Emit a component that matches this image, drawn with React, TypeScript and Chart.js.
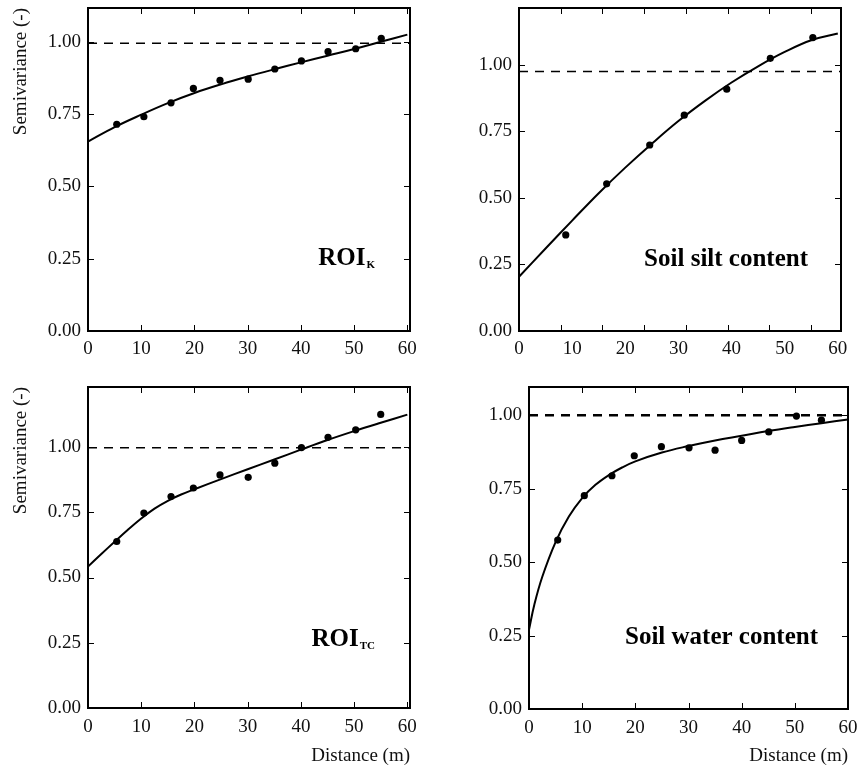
import React, { useEffect, useRef } from "react";
import { Chart, registerables } from "chart.js";

Chart.register(...registerables);

// ---------- shared axis tick values ----------
const xTickValues = [0, 10, 20, 30, 40, 50, 60];
const yTickValues = [0, 0.25, 0.5, 0.75, 1.0];

// ---------- ROI_K ----------
const roiKLagX = [5.4, 10.5, 15.6, 19.8, 24.8, 30.1, 35.1, 40.1, 45.1, 50.3, 55.1];
const roiKGamma = [0.715, 0.741, 0.789, 0.839, 0.867, 0.871, 0.906, 0.934, 0.966, 0.976, 1.012];
const roiKFitX = [0, 5, 10, 15, 20, 25, 30, 35, 40, 45, 50, 55, 60];
const roiKFitY = [0.655, 0.705, 0.748, 0.788, 0.823, 0.853, 0.88, 0.905, 0.929, 0.952, 0.975, 1.0, 1.025];
const roiKSill = 0.995;

// ---------- Soil silt content ----------
const siltLagX = [8.8, 16.5, 24.6, 31.1, 39.1, 47.3, 55.3];
const siltGamma = [0.361, 0.553, 0.699, 0.811, 0.909, 1.025, 1.103];
const siltFitX = [0, 5, 10, 15, 20, 25, 30, 35, 40, 45, 50, 55, 60];
const siltFitY = [0.204, 0.31, 0.415, 0.518, 0.614, 0.704, 0.789, 0.865, 0.934, 0.995, 1.049, 1.093, 1.118];
const siltSill = 0.975;
const siltTickMarks = [7.85, 15.7, 23.55, 31.4, 39.25, 47.1, 54.95];

// ---------- ROI_TC ----------
const roiTCLagX = [5.4, 10.5, 15.6, 19.8, 24.8, 30.1, 35.1, 40.1, 45.1, 50.3, 55.0];
const roiTCGamma = [0.638, 0.747, 0.81, 0.843, 0.893, 0.884, 0.938, 0.998, 1.037, 1.066, 1.125];
const roiTCFitX = [0, 2.5, 5, 7.5, 10, 12.5, 15, 17.5, 20, 25, 30, 35, 40, 45, 50, 55, 60];
const roiTCFitY = [0.542, 0.59, 0.637, 0.683, 0.726, 0.764, 0.794, 0.818, 0.838, 0.877, 0.915, 0.952, 0.99, 1.027, 1.061, 1.093, 1.124];
const roiTCSill = 0.997;

// ---------- Soil water content ----------
const waterLagX = [5.4, 10.4, 15.6, 19.8, 24.9, 30.1, 35.0, 40.0, 45.1, 50.3, 55.0];
const waterGamma = [0.575, 0.726, 0.794, 0.862, 0.893, 0.889, 0.881, 0.914, 0.943, 0.997, 0.983];
const waterFitX = [0, 1, 2.5, 5, 7.5, 10, 12.5, 15, 17.5, 20, 25, 30, 35, 40, 45, 50, 55, 60];
const waterFitY = [0.27, 0.355, 0.45, 0.568, 0.655, 0.718, 0.763, 0.796, 0.822, 0.843, 0.873, 0.895, 0.914, 0.93, 0.946, 0.96, 0.973, 0.985];
const waterSill = 1.0;

const FONT = '"Liberation Serif", "Times New Roman", serif';

const zip = (xs: number[], ys: number[]) => xs.map((x, i) => ({ x, y: ys[i] }));

const framePlugin = {
  id: "frameTicks",
  afterDraw(chart: any, _args: any, opts: any) {
    const { ctx, chartArea: a, scales } = chart;
    const xs = scales.x;
    const ys = scales.y;
    ctx.save();
    ctx.strokeStyle = "#000";
    ctx.lineWidth = 1;
    const tl = 6;
    const line = (x1: number, y1: number, x2: number, y2: number) => {
      ctx.beginPath();
      ctx.moveTo(x1, y1);
      ctx.lineTo(x2, y2);
      ctx.stroke();
    };
    const xMarks: number[] = opts.xMarks || xTickValues;
    xMarks.forEach((v) => {
      const p = Math.round(xs.getPixelForValue(v)) + 0.5;
      if (p <= a.left + 2 || p >= a.right - 2) return;
      line(p, a.bottom, p, a.bottom - tl);
      line(p, a.top, p, a.top + tl);
    });
    yTickValues.forEach((v) => {
      const p = Math.round(ys.getPixelForValue(v)) + 0.5;
      if (p <= a.top + 2 || p >= a.bottom - 2) return;
      line(a.left, p, a.left + tl, p);
      line(a.right, p, a.right - tl, p);
    });
    ctx.lineWidth = 2;
    ctx.strokeRect(a.left, a.top, a.right - a.left, a.bottom - a.top);

    // panel label
    ctx.fillStyle = "#000";
    ctx.textBaseline = "alphabetic";
    ctx.textAlign = "left";
    const mainFont = `bold ${opts.labelSize || 25}px ${FONT}`;
    const subFont = `bold 11px ${FONT}`;
    ctx.font = mainFont;
    const w1 = ctx.measureText(opts.label).width;
    let w2 = 0;
    if (opts.sub) {
      ctx.font = subFont;
      w2 = ctx.measureText(opts.sub).width + 1;
    }
    const endX = a.right - opts.labelRight;
    const baseY = a.bottom - opts.labelBottom;
    const startX = endX - w1 - w2;
    ctx.font = mainFont;
    ctx.fillText(opts.label, startX, baseY);
    if (opts.sub) {
      ctx.font = subFont;
      ctx.fillText(opts.sub, startX + w1 + 1, baseY + 3);
    }
    ctx.restore();
  },
};

type PanelProps = {
  left: number;
  top: number;
  width: number;
  height: number;
  yAxisWidth: number;
  xAxisHeight: number;
  padTop: number;
  padRight: number;
  xMax: number;
  yMax: number;
  lagX: number[];
  gamma: number[];
  fitX: number[];
  fitY: number[];
  sill: number;
  sillWidth: number;
  showYTitle: boolean;
  showXTitle: boolean;
  label: string;
  sub?: string;
  labelRight: number;
  labelBottom: number;
  xMarks?: number[];
  xLabelPad: number;
};

function Panel(p: PanelProps) {
  const ref = useRef<HTMLCanvasElement | null>(null);
  useEffect(() => {
    if (!ref.current) return;
    const chart = new Chart(ref.current, {
      type: "scatter",
      data: {
        datasets: [
          {
            data: [
              { x: 0, y: p.sill },
              { x: p.xMax, y: p.sill },
            ],
            showLine: true,
            borderColor: "#000",
            borderWidth: p.sillWidth,
            borderDash: [9, 7],
            pointRadius: 0,
          },
          {
            data: zip(p.fitX, p.fitY),
            showLine: true,
            borderColor: "#000",
            borderWidth: 2,
            pointRadius: 0,
            tension: 0.4,
          },
          {
            data: zip(p.lagX, p.gamma),
            showLine: false,
            pointRadius: 3.6,
            pointBackgroundColor: "#000",
            pointBorderColor: "#000",
            pointBorderWidth: 0,
          },
        ],
      },
      options: {
        animation: false,
        responsive: false,
        events: [],
        layout: { padding: { top: p.padTop, right: p.padRight, left: 0, bottom: 0 } },
        plugins: {
          legend: { display: false },
          tooltip: { enabled: false },
          frameTicks: {
            label: p.label,
            sub: p.sub,
            labelRight: p.labelRight,
            labelBottom: p.labelBottom,
            xMarks: p.xMarks,
          },
        } as any,
        scales: {
          x: {
            type: "linear",
            min: 0,
            max: p.xMax,
            grid: { display: false, drawTicks: false },
            border: { display: false },
            ticks: {
              autoSkip: false,
              maxRotation: 0,
              padding: p.xLabelPad,
              color: "#111",
              font: { family: FONT, size: 19 },
            },
            afterBuildTicks: (s: any) => {
              s.ticks = xTickValues.map((v) => ({ value: v }));
            },
            afterFit: (s: any) => {
              s.height = p.xAxisHeight;
              s.paddingLeft = 0;
              s.paddingRight = 0;
            },
            title: {
              display: p.showXTitle,
              text: "Distance (m)",
              align: "end",
              color: "#111",
              font: { family: FONT, size: 19 },
              padding: { top: 0, bottom: 0 },
            },
          },
          y: {
            type: "linear",
            min: 0,
            max: p.yMax,
            grid: { display: false, drawTicks: false },
            border: { display: false },
            ticks: {
              padding: 7,
              color: "#111",
              font: { family: FONT, size: 19 },
              callback: (v: any) => Number(v).toFixed(2),
            },
            afterBuildTicks: (s: any) => {
              s.ticks = yTickValues.map((v) => ({ value: v }));
            },
            afterFit: (s: any) => {
              s.width = p.yAxisWidth;
              s.paddingTop = 0;
              s.paddingBottom = 0;
            },
            title: {
              display: p.showYTitle,
              text: "Semivariance (-)",
              align: "end",
              color: "#111",
              font: { family: FONT, size: 19 },
              padding: { top: 10, bottom: 0 },
            },
          },
        },
      } as any,
      plugins: [framePlugin],
    });
    return () => chart.destroy();
  }, []);
  return (
    <canvas
      ref={ref}
      width={p.width}
      height={p.height}
      style={{ position: "absolute", left: p.left, top: p.top, width: p.width, height: p.height }}
    />
  );
}

export default function App() {
  return (
    <div style={{ position: "absolute", left: 0, top: 0, width: 859, height: 767, background: "#fff" }}>
      <Panel
        left={0} top={0} width={430} height={380}
        yAxisWidth={88} xAxisHeight={49} padTop={8} padRight={20}
        xMax={60.5} yMax={1.117}
        lagX={roiKLagX} gamma={roiKGamma} fitX={roiKFitX} fitY={roiKFitY}
        sill={roiKSill} sillWidth={1.5}
        showYTitle={true} showXTitle={false}
        label="ROI" sub="K" labelRight={35} labelBottom={66}
        xLabelPad={7}
      />
      <Panel
        left={430} top={0} width={429} height={380}
        yAxisWidth={89} xAxisHeight={49} padTop={8} padRight={18}
        xMax={60.6} yMax={1.214}
        lagX={siltLagX} gamma={siltGamma} fitX={siltFitX} fitY={siltFitY}
        sill={siltSill} sillWidth={1.5}
        showYTitle={false} showXTitle={false}
        label="Soil silt content" labelRight={33} labelBottom={65}
        xMarks={siltTickMarks}
        xLabelPad={7}
      />
      <Panel
        left={0} top={380} width={430} height={387}
        yAxisWidth={88} xAxisHeight={59} padTop={7} padRight={20}
        xMax={60.5} yMax={1.23}
        lagX={roiTCLagX} gamma={roiTCGamma} fitX={roiTCFitX} fitY={roiTCFitY}
        sill={roiTCSill} sillWidth={1.5}
        showYTitle={true} showXTitle={true}
        label="ROI" sub="TC" labelRight={35} labelBottom={62}
        xLabelPad={8}
      />
      <Panel
        left={430} top={380} width={429} height={387}
        yAxisWidth={99} xAxisHeight={58} padTop={7} padRight={11}
        xMax={60} yMax={1.096}
        lagX={waterLagX} gamma={waterGamma} fitX={waterFitX} fitY={waterFitY}
        sill={waterSill} sillWidth={2.5}
        showYTitle={false} showXTitle={true}
        label="Soil water content" labelRight={30} labelBottom={65}
        xLabelPad={8}
      />
    </div>
  );
}
